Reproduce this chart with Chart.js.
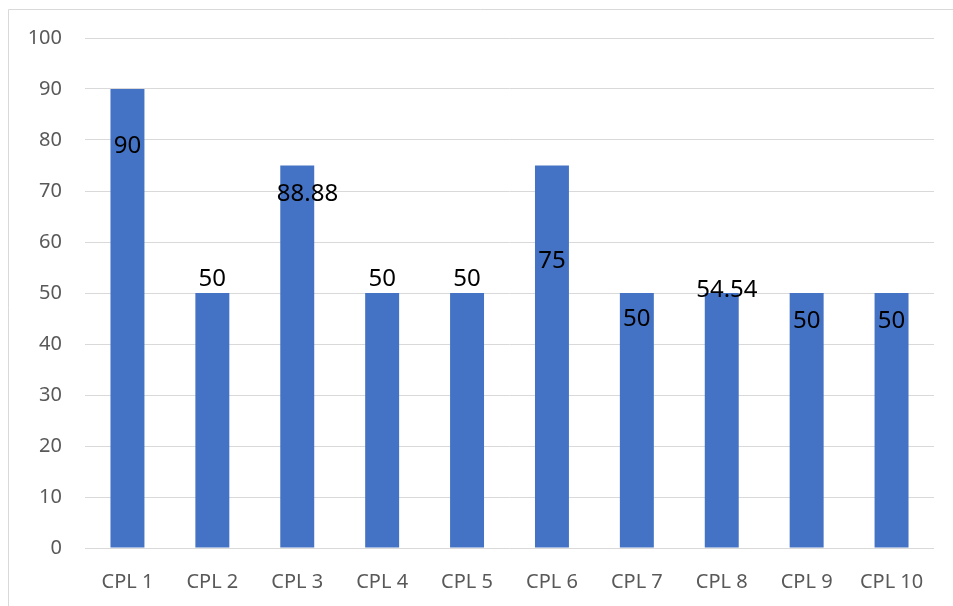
<!DOCTYPE html>
<html>
<head>
<meta charset="utf-8">
<script src="https://cdn.jsdelivr.net/npm/chart.js@4.4.1/dist/chart.umd.min.js"></script>
<style>
  html, body { margin: 0; padding: 0; background: #fff; }
  #wrap { width: 953px; height: 606px; position: relative; }
</style>
</head>
<body>
<div id="wrap"><canvas id="cplChart" width="953" height="606"></canvas></div>
<script>
// Chart data
const categories = ['CPL 1', 'CPL 2', 'CPL 3', 'CPL 4', 'CPL 5', 'CPL 6', 'CPL 7', 'CPL 8', 'CPL 9', 'CPL 10'];
const barValues = [90, 50, 75, 50, 50, 75, 50, 50, 50, 50];
const labelTexts = ['90', '50', '88.88', '50', '50', '75', '50', '54.54', '50', '50'];
const yTicks = [0, 10, 20, 30, 40, 50, 60, 70, 80, 90, 100];

// Where each data label sits (x in category index, y in axis units)
const labelX = [0, 1, 2.12, 3, 4, 5, 6, 7.06, 8, 9];
const labelY = [79.1, 53.0, 69.7, 53.0, 53.0, 56.6, 45.2, 50.9, 44.8, 44.8];

const FONT = '"Noto Sans", "DejaVu Sans", sans-serif';

// thin grey frame like the Excel chart area
const framePlugin = {
    id: 'frame',
    beforeDraw(chart) {
        const c = chart.ctx;
        c.save();
        c.strokeStyle = '#D9D9D9';
        c.lineWidth = 1;
        c.beginPath();
        c.moveTo(8.5, 606);
        c.lineTo(8.5, 9.5);
        c.lineTo(953, 9.5);
        c.stroke();
        c.restore();
    }
};

const labelPlugin = {
    id: 'barLabels',
    afterDatasetsDraw(chart) {
        const c = chart.ctx;
        const xs = chart.scales.x;
        const ys = chart.scales.y;
        c.save();
        c.font = '24px ' + FONT;
        c.fillStyle = '#000000';
        c.textAlign = 'center';
        c.textBaseline = 'alphabetic';
        labelTexts.forEach((txt, i) => {
            const x = xs.getPixelForValue(labelX[i]);
            const y = ys.getPixelForValue(labelY[i]);
            c.fillText(txt, x, y + 8.5);
        });
        c.restore();
    }
};

const ctx = document.getElementById('cplChart').getContext('2d');
new Chart(ctx, {
    type: 'bar',
    data: {
        labels: categories,
        datasets: [{
            data: barValues,
            backgroundColor: '#4472C4',
            borderWidth: 0,
            categoryPercentage: 1.0,
            barPercentage: 0.4
        }]
    },
    options: {
        responsive: false,
        animation: false,
        layout: { padding: { top: 38, right: 19, bottom: 0, left: 0 } },
        plugins: {
            legend: { display: false },
            tooltip: { enabled: false }
        },
        scales: {
            x: {
                grid: { display: false },
                border: { display: false },
                ticks: {
                    color: '#595959',
                    font: { family: FONT, size: 20 },
                    padding: 14,
                    maxRotation: 0
                },
                afterFit(scale) { scale.height = 58; }
            },
            y: {
                min: 0,
                max: 100,
                afterBuildTicks(scale) { scale.ticks = yTicks.map(v => ({ value: v })); },
                grid: { color: '#D9D9D9', lineWidth: 1, drawTicks: false },
                border: { display: false },
                ticks: {
                    color: '#595959',
                    font: { family: FONT, size: 20 },
                    padding: 23
                },
                afterFit(scale) { scale.width = 85; }
            }
        }
    },
    plugins: [framePlugin, labelPlugin]
});
</script>
</body>
</html>
